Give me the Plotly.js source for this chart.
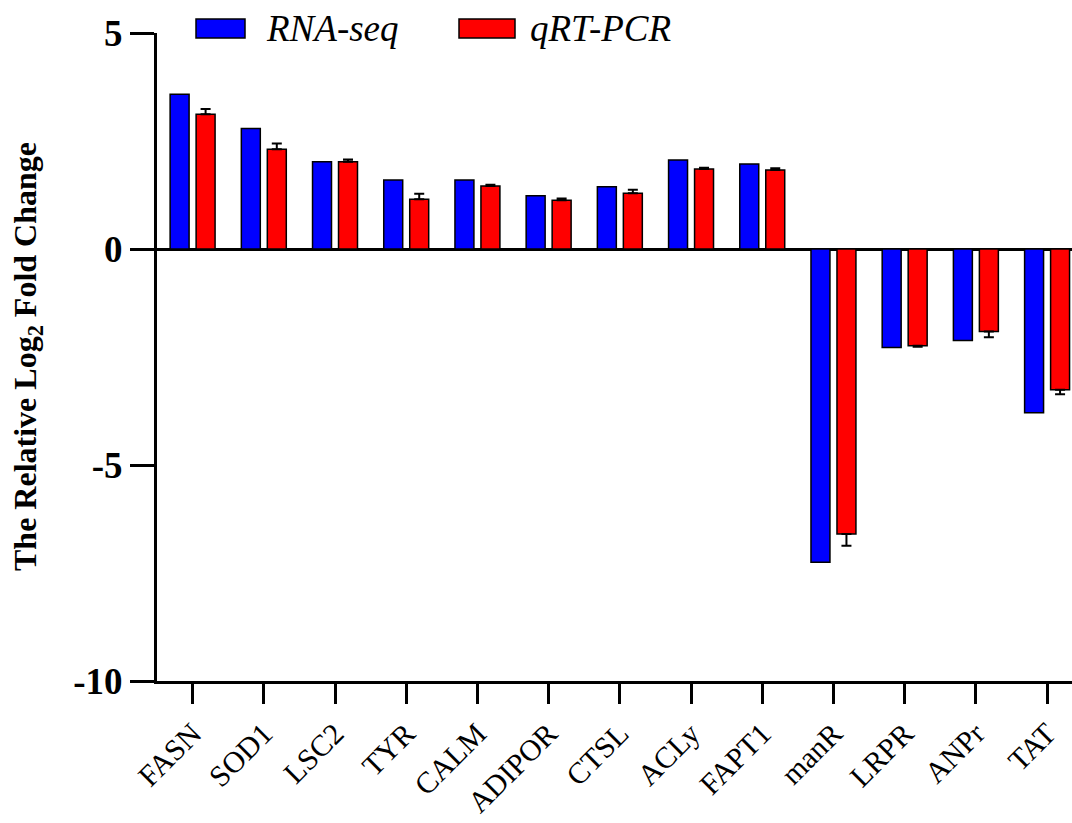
<!DOCTYPE html>
<html>
<head>
<meta charset="utf-8">
<script src="https://cdn.plot.ly/plotly-3.0.1.min.js"></script>
<style>html,body{margin:0;padding:0;background:#fff;}#chart{width:1072px;height:823px;}</style>
</head>
<body>
<div id="chart"></div>
<script>
const genes = ["FASN","SOD1","LSC2","TYR","CALM","ADIPOR","CTSL","ACLy","FAPT1","manR","LRPR","ANPr","TAT"];
const seriesNames = ["RNA-seq","qRT-PCR"];
const rnaSeq = [3.58, 2.79, 2.02, 1.60, 1.60, 1.23, 1.44, 2.06, 1.97, -7.25, -2.28, -2.12, -3.79];
const qrtPcr = [3.12, 2.31, 2.02, 1.15, 1.46, 1.13, 1.29, 1.85, 1.83, -6.60, -2.24, -1.91, -3.26];
const qrtPcrErr = [0.12, 0.13, 0.05, 0.13, 0.03, 0.04, 0.08, 0.03, 0.04, 0.27, 0.02, 0.13, 0.10];
const yTicks = [-10, -5, 0, 5];
const yTitle = "The Relative Log<sub>2</sub> Fold Change";

const errUp = qrtPcr.map((v,i)=> v >= 0 ? qrtPcrErr[i] : 0);
const errDown = qrtPcr.map((v,i)=> v < 0 ? qrtPcrErr[i] : 0);

const serif = "Liberation Serif, Times New Roman, serif";

const traces = [
  {type:"bar", name:seriesNames[0], x:genes, y:rnaSeq,
   marker:{color:"#0000FF", line:{color:"#000", width:1.5}}, showlegend:false},
  {type:"bar", name:seriesNames[1], x:genes, y:qrtPcr,
   marker:{color:"#FF0000", line:{color:"#000", width:1.5}},
   error_y:{type:"data", symmetric:false, array:errUp, arrayminus:errDown, color:"#000", thickness:2, width:5},
   showlegend:false}
];

const L = 157, T = 33, W = 915, H = 648;
function px2x(p){ return (p - L)/W; }
function px2y(p){ return (T + H - p)/H; }

const layout = {
  width:1072, height:823,
  margin:{l:L, r:0, t:T, b:823-T-H, pad:0},
  paper_bgcolor:"#fff", plot_bgcolor:"#fff",
  barmode:"group", bargap:0.27, bargroupgap:0.27,
  showlegend:false,
  xaxis:{
    type:"category", range:[-0.5, 12.35],
    showline:true, linecolor:"#000", linewidth:3,
    ticks:"outside", ticklen:20, tickwidth:3, tickcolor:"#000",
    tickangle:-45, tickfont:{family:serif, size:30, color:"#000"},
    showgrid:false, zeroline:false, automargin:false, fixedrange:true
  },
  yaxis:{
    range:[-10, 5], tickvals:yTicks, ticktext:yTicks.map(String),
    showline:true, linecolor:"#000", linewidth:3,
    ticks:"outside", ticklen:24, tickwidth:3, tickcolor:"#000",
    tickfont:{family:serif, size:37, color:"#000", weight:"bold"},
    showgrid:false, zeroline:true, zerolinecolor:"#000", zerolinewidth:3,
    automargin:false, fixedrange:true
  },
  shapes:[
    {type:"rect", xref:"paper", yref:"paper", x0:px2x(196), x1:px2x(245), y0:px2y(38), y1:px2y(19),
     fillcolor:"#0000FF", line:{color:"#000", width:1.5}},
    {type:"rect", xref:"paper", yref:"paper", x0:px2x(459), x1:px2x(515), y0:px2y(38), y1:px2y(19),
     fillcolor:"#FF0000", line:{color:"#000", width:1.5}}
  ],
  annotations:[
    {xref:"paper", yref:"paper", x:px2x(264), y:px2y(29), xanchor:"left", yanchor:"middle", showarrow:false,
     text:"<i>"+seriesNames[0]+"</i>", font:{family:serif, size:37, color:"#000"}},
    {xref:"paper", yref:"paper", x:px2x(528), y:px2y(29), xanchor:"left", yanchor:"middle", showarrow:false,
     text:"<i>"+seriesNames[1]+"</i>", font:{family:serif, size:37, color:"#000"}},
    {xref:"paper", yref:"paper", x:px2x(27), y:px2y(357), xanchor:"center", yanchor:"middle", showarrow:false,
     textangle:-90, text:"<b>"+yTitle+"</b>", font:{family:serif, size:32, color:"#000"}}
  ]
};

Plotly.newPlot("chart", traces, layout, {displayModeBar:false, staticPlot:true});
</script>
</body>
</html>
